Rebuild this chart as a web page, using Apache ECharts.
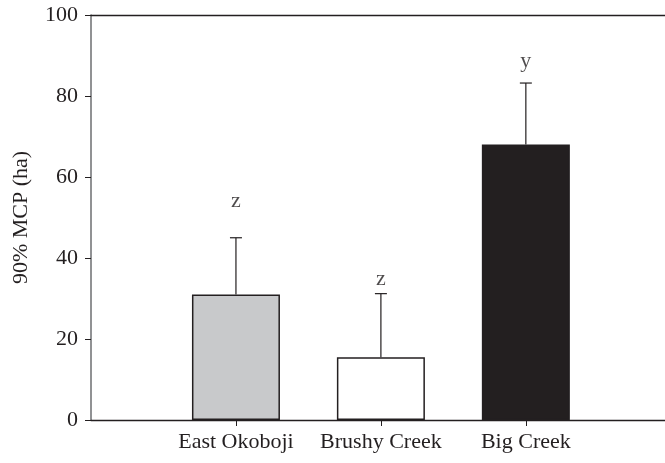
<!DOCTYPE html>
<html>
<head>
<meta charset="utf-8">
<script src="https://cdn.jsdelivr.net/npm/echarts@6/dist/echarts.min.js"></script>
<style>
  html, body { margin: 0; padding: 0; background: #fff; }
  #chart { width: 665px; height: 463px; }
</style>
</head>
<body>
<div id="chart"></div>
<script>
// Home range size (90% minimum convex polygon) by study site
var sites = ['East Okoboji', 'Brushy Creek', 'Big Creek'];
var meanHa = [31, 15.5, 68];
var errHa = [14, 15.7, 15.2];
var groupLetters = ['z', 'z', 'y'];
var letterAt = [54.1, 34.8, 88.5];
var barColors = ['#c8c9cb', '#ffffff', '#231f20'];
var yTicks = [0, 20, 40, 60, 80, 100];

var ink = '#231f20';
var serif = '"Liberation Serif", "Times New Roman", serif';

// sites sit at x = 1, 2, 3 on a numeric axis that runs from 0 to just under 4
var sitePos = sites.map(function (s, i) { return i + 1; });

var barData = sites.map(function (s, i) {
  return {
    value: [sitePos[i], meanHa[i]],
    itemStyle: { color: barColors[i], borderColor: ink, borderWidth: 1.5 }
  };
});

var errData = sites.map(function (s, i) {
  return [sitePos[i], meanHa[i], meanHa[i] + errHa[i]];
});

var letterData = sites.map(function (s, i) {
  return { value: [sitePos[i], letterAt[i]], name: groupLetters[i] };
});

var chart = echarts.init(document.getElementById('chart'), null, { renderer: 'canvas' });

chart.setOption({
  animation: false,
  backgroundColor: '#ffffff',
  grid: { left: 91, right: 0, top: 15, bottom: 43, containLabel: false },
  xAxis: [{
    type: 'value',
    min: 0,
    max: 3.96,
    interval: 1,
    axisLine: { show: true, onZero: false, lineStyle: { color: ink, width: 1.3 } },
    axisTick: {
      show: true, length: 6, inside: false,
      customValues: sitePos,
      lineStyle: { color: ink, width: 1 }
    },
    axisLabel: {
      show: true, margin: 11,
      customValues: sitePos,
      formatter: function (v) { return sites[Math.round(v) - 1] || ''; },
      fontFamily: serif, fontSize: 22, color: ink
    },
    splitLine: { show: false }
  }, {
    type: 'value',
    min: 0,
    max: 3.96,
    position: 'top',
    axisLine: { show: true, onZero: false, lineStyle: { color: ink, width: 1.3 } },
    axisTick: { show: false },
    axisLabel: { show: false },
    splitLine: { show: false }
  }],
  yAxis: {
    type: 'value',
    min: yTicks[0],
    max: yTicks[yTicks.length - 1],
    interval: 20,
    name: '90% MCP (ha)',
    nameLocation: 'middle',
    nameGap: 59,
    nameTextStyle: { fontFamily: serif, fontSize: 22, color: ink },
    axisLine: { show: true, onZero: false, lineStyle: { color: '#6d6e71', width: 1.5 } },
    axisTick: { show: true, length: 6, lineStyle: { color: ink, width: 1 } },
    axisLabel: { margin: 13, fontFamily: serif, fontSize: 22, color: ink },
    splitLine: { show: false }
  },
  series: [{
    type: 'bar',
    data: barData,
    barWidth: 88,
    z: 2
  }, {
    type: 'custom',
    z: 1,
    data: errData,
    renderItem: function (params, api) {
      var x = api.coord([api.value(0), api.value(1)]);
      var top = api.coord([api.value(0), api.value(2)]);
      var cap = 6;
      var st = { stroke: ink, lineWidth: 1.2 };
      return {
        type: 'group',
        children: [
          { type: 'line', shape: { x1: x[0], y1: x[1], x2: top[0], y2: top[1] }, style: st },
          { type: 'line', shape: { x1: top[0] - cap, y1: top[1], x2: top[0] + cap, y2: top[1] }, style: st }
        ]
      };
    }
  }, {
    type: 'scatter',
    data: letterData,
    symbolSize: 0,
    label: {
      show: true,
      position: 'inside',
      formatter: function (p) { return p.name; },
      fontFamily: serif, fontSize: 22, color: ink
    }
  }]
});
</script>
</body>
</html>
